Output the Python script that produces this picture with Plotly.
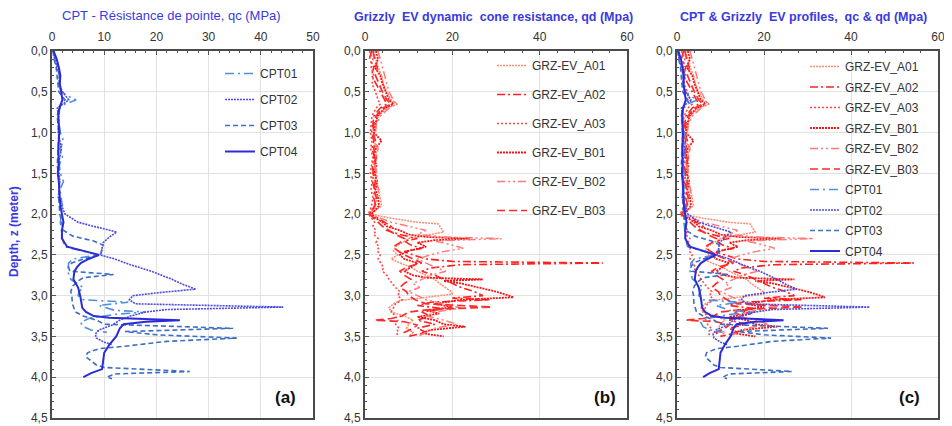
import plotly.graph_objects as go

# ---- CPT cone resistance qc (MPa) vs depth (m) ----
cpt01_z = [0.0, 0.1, 0.2, 0.3, 0.4, 0.5, 0.55, 0.6, 0.65, 0.7, 0.8, 1.0, 1.1, 1.2, 1.3, 1.4, 1.5, 1.6, 1.7, 1.8,
           1.9, 2.0, 2.1, 2.2, 2.3, 2.4, 2.5, 2.55, 2.6, 2.7, 2.8, 2.9, 2.95, 3.0, 3.05, 3.08, 3.12, 3.18, 3.2, 3.23,
           3.28, 3.33, 3.38, 3.42, 3.45]
cpt01_qc = [0.2, 0.6, 1.0, 1.4, 1.2, 1.8, 3.0, 4.6, 2.5, 1.5, 1.2, 1.6, 2.2, 1.5, 2.0, 1.4, 1.6, 2.2, 1.5, 1.8,
            2.0, 1.8, 1.6, 1.8, 2.0, 2.4, 9.0, 4.0, 3.2, 3.0, 3.6, 6.0, 5.2, 5.0, 6.0, 14.6, 9.0, 12.0, 18.0, 12.0,
            7.0, 5.5, 6.0, 7.5, 10.5]

cpt02_z = [0.0, 0.1, 0.2, 0.3, 0.4, 0.5, 0.6, 0.65, 0.7, 0.8, 1.0, 1.2, 1.4, 1.6, 1.8, 2.0, 2.1, 2.15, 2.22, 2.28,
           2.35, 2.45, 2.5, 2.55, 2.62, 2.7, 2.76, 2.8, 2.86, 2.92, 2.96, 3.0, 3.05, 3.1, 3.14, 3.17, 3.2, 3.25,
           3.3, 3.36, 3.42, 3.47, 3.52, 3.57, 3.6]
cpt02_qc = [0.3, 0.5, 1.0, 1.5, 1.3, 2.0, 3.2, 2.0, 1.0, 1.3, 1.2, 1.8, 1.2, 1.5, 1.2, 2.5, 5.0, 8.0, 12.4, 11.0,
            9.8, 9.5, 9.2, 12.0, 15.0, 19.0, 21.5, 23.0, 25.0, 27.5, 21.0, 15.5, 14.8, 16.0, 44.3, 22.0, 18.0, 15.0,
            13.0, 11.5, 9.0, 8.3, 8.5, 10.0, 11.5]

cpt03_z = [0.0, 0.1, 0.2, 0.3, 0.4, 0.5, 0.6, 0.7, 0.8, 1.0, 1.2, 1.4, 1.6, 1.8, 2.0, 2.1, 2.2, 2.27, 2.33, 2.38,
           2.45, 2.5, 2.55, 2.6, 2.65, 2.7, 2.74, 2.78, 2.82, 2.88, 2.95, 3.0, 3.1, 3.2, 3.25, 3.3, 3.35, 3.4, 3.44,
           3.48, 3.52, 3.56, 3.62, 3.65, 3.7, 3.75, 3.8, 3.85, 3.88, 3.93, 3.96, 4.0, 4.02]
cpt03_qc = [0.2, 0.4, 0.8, 1.0, 1.2, 1.3, 2.5, 1.3, 1.0, 1.3, 1.2, 1.0, 1.4, 1.3, 1.5, 1.8, 2.2, 4.0, 8.0, 9.8,
            9.5, 9.3, 6.0, 3.8, 3.2, 3.4, 11.8, 6.0, 5.0, 4.0, 3.6, 3.8, 3.9, 4.5, 6.0, 8.5, 10.0, 34.7, 14.0,
            20.0, 35.4, 22.0, 14.0, 9.0, 6.8, 6.5, 7.5, 8.5, 10.0, 26.4, 12.0, 10.5, 11.5]

cpt04_z = [0.0, 0.05, 0.1, 0.2, 0.3, 0.4, 0.5, 0.6, 0.7, 0.8, 1.0, 1.2, 1.4, 1.5, 1.6, 1.8, 1.9, 2.0, 2.1, 2.2,
           2.3, 2.4, 2.45, 2.5, 2.55, 2.6, 2.65, 2.7, 2.8, 2.9, 3.0, 3.1, 3.15, 3.2, 3.25, 3.27, 3.29, 3.3, 3.32,
           3.35, 3.4, 3.5, 3.6, 3.7, 3.8, 3.9, 3.95, 4.0]
cpt04_qc = [0.3, 0.6, 0.9, 1.3, 1.6, 1.5, 1.7, 2.0, 1.4, 1.2, 1.4, 1.2, 1.3, 1.1, 1.3, 1.5, 1.6, 1.9, 2.2, 1.9,
            1.9, 2.9, 6.0, 9.0, 7.0, 5.5, 4.8, 4.3, 4.1, 5.0, 5.4, 5.6, 5.8, 6.5, 8.0, 11.0, 20.0, 24.5, 18.0,
            13.7, 13.0, 12.3, 11.0, 10.0, 9.8, 9.6, 7.5, 6.0]

# ---- Grizzly EV dynamic cone resistance qd (MPa) vs depth (m) ----
grz_top_z = [0.0, 0.1, 0.2, 0.3, 0.4, 0.5, 0.6, 0.65, 0.7, 0.8, 0.9, 1.0, 1.1, 1.2, 1.3, 1.4, 1.5, 1.6, 1.7, 1.8,
             1.9, 2.0]

a01_z = grz_top_z + [2.05, 2.1, 2.12, 2.18, 2.22, 2.26, 2.3, 2.35, 2.4, 2.45, 2.5, 2.55, 2.6, 2.65, 2.7, 2.75,
                     2.8, 2.85, 2.9, 2.95, 2.98, 3.0, 3.03, 3.06, 3.1, 3.15, 3.2, 3.25, 3.3, 3.35, 3.4, 3.45, 3.5]
a01_qd = [2.0, 2.5, 3.0, 3.8, 4.2, 5.0, 6.0, 7.5, 5.0, 3.0, 2.5, 2.2, 2.0, 2.8, 2.4, 2.0, 2.6, 2.2, 3.0, 3.5,
          3.8, 1.2,
          6.0, 12.0, 16.8, 17.5, 18.0, 14.0, 10.0, 8.5, 7.0, 6.5, 7.5, 6.0, 8.0, 10.5, 12.0, 14.0, 16.0, 17.0,
          18.5, 19.8, 20.0, 17.0, 12.0, 8.0, 6.5, 5.5, 6.0, 9.0, 11.0, 10.0, 9.5, 11.0, 10.0]

a02_z = grz_top_z + [2.05, 2.1, 2.15, 2.2, 2.25, 2.3, 2.33, 2.38, 2.42, 2.46, 2.5, 2.55, 2.58, 2.6, 2.62, 2.66,
                     2.7, 2.75, 2.8, 2.85, 2.9, 2.95, 3.0, 3.03, 3.05, 3.08, 3.12, 3.16, 3.2, 3.25, 3.3, 3.35,
                     3.4, 3.45, 3.5]
a02_qd = [1.5, 1.0, 2.0, 1.5, 2.5, 3.5, 4.5, 5.0, 3.5, 2.0, 1.8, 1.5, 2.0, 1.6, 2.2, 1.6, 2.0, 1.7, 2.2, 2.0,
          2.5, 1.0,
          3.0, 4.5, 6.0, 5.0, 8.0, 12.0, 9.0, 10.5, 13.0, 9.0, 11.0, 14.0, 20.0, 54.5, 22.0, 15.0, 13.0, 16.0,
          18.0, 20.0, 22.0, 25.0, 27.0, 20.0, 28.6, 15.0, 12.0, 18.0, 13.0, 15.0, 12.0, 16.0, 12.0, 14.0, 10.0]

a03_z = grz_top_z + [2.05, 2.1, 2.15, 2.2, 2.25, 2.3, 2.35, 2.4, 2.45, 2.5, 2.55, 2.6, 2.65, 2.7, 2.75, 2.8,
                     2.85, 2.9, 2.95, 3.0, 3.05, 3.1, 3.15, 3.2, 3.25, 3.3, 3.35, 3.4, 3.45, 3.5]
a03_qd = [1.0, 1.8, 1.4, 2.0, 1.6, 2.4, 3.0, 3.5, 2.5, 1.6, 1.4, 1.2, 1.6, 1.3, 1.8, 1.5, 1.2, 1.6, 1.4, 1.8,
          1.5, 0.8,
          1.5, 2.2, 1.8, 2.5, 2.0, 3.0, 2.5, 3.2, 2.8, 3.5, 3.0, 3.6, 4.2, 4.0, 5.0, 5.5, 6.2, 7.0, 8.0, 7.5,
          8.5, 7.0, 6.5, 6.0, 7.0, 7.5, 7.0, 7.8, 7.2, 7.6]

b01_z = grz_top_z + [2.05, 2.1, 2.15, 2.2, 2.25, 2.28, 2.3, 2.32, 2.35, 2.4, 2.45, 2.5, 2.55, 2.6, 2.65, 2.7,
                     2.75, 2.78, 2.8, 2.82, 2.85, 2.9, 2.95, 3.0, 3.02, 3.05, 3.1, 3.14, 3.18, 3.22, 3.26, 3.3,
                     3.35, 3.38, 3.42, 3.46, 3.5]
b01_qd = [2.5, 3.0, 2.2, 3.5, 4.0, 4.8, 5.5, 6.5, 4.5, 2.8, 2.4, 2.0, 3.8, 2.4, 2.0, 2.6, 2.2, 2.8, 2.4, 3.0,
          3.2, 1.5,
          2.5, 4.0, 5.0, 8.0, 10.0, 14.0, 24.0, 16.0, 12.0, 14.0, 10.0, 8.0, 9.0, 12.0, 10.5, 9.0, 11.0, 14.0,
          27.0, 18.0, 22.0, 26.0, 30.0, 33.0, 34.0, 22.0, 16.0, 20.0, 14.0, 17.0, 12.0, 16.0, 18.0, 23.0, 15.0,
          13.0, 18.0]

b02_z = grz_top_z + [2.05, 2.1, 2.15, 2.2, 2.25, 2.28, 2.3, 2.33, 2.38, 2.42, 2.46, 2.5, 2.55, 2.6, 2.65, 2.7,
                     2.75, 2.8, 2.85, 2.9, 2.95, 3.0, 3.05, 3.1, 3.15, 3.2, 3.25, 3.3, 3.35, 3.4, 3.45, 3.5]
b02_qd = [3.0, 3.5, 4.0, 4.5, 5.0, 5.5, 6.5, 7.0, 5.5, 3.5, 2.6, 2.4, 2.2, 3.0, 2.6, 2.2, 2.8, 2.5, 3.2, 2.8,
          2.4, 1.2,
          3.5, 6.0, 10.0, 14.0, 12.0, 18.0, 31.3, 16.0, 20.0, 22.5, 18.0, 15.0, 12.0, 14.0, 16.0, 18.5, 15.0,
          13.0, 11.0, 12.5, 10.0, 12.0, 14.0, 18.0, 22.0, 16.0, 14.0, 18.0, 21.0, 16.0, 14.0, 12.0]

b03_z = grz_top_z + [2.05, 2.1, 2.15, 2.2, 2.25, 2.3, 2.35, 2.4, 2.45, 2.5, 2.55, 2.6, 2.65, 2.7, 2.75, 2.8,
                     2.85, 2.9, 2.95, 3.0, 3.05, 3.1, 3.14, 3.17, 3.2, 3.25, 3.28, 3.3, 3.32, 3.36, 3.4, 3.45, 3.5]
b03_qd = [1.8, 2.2, 2.8, 2.4, 3.2, 4.0, 5.0, 6.0, 4.0, 2.5, 2.0, 1.8, 2.4, 2.0, 2.6, 2.2, 1.8, 2.4, 2.0, 2.6,
          2.2, 1.0,
          2.0, 3.0, 4.0, 5.5, 7.0, 9.0, 8.0, 6.5, 7.5, 9.0, 11.0, 13.0, 9.5, 8.0, 9.0, 10.5, 9.0, 8.0, 9.5, 10.0,
          11.5, 14.0, 29.0, 15.0, 10.0, 8.5, 6.0, 2.2, 9.0, 12.0, 11.0, 9.0, 9.5]

cpt_names = ['CPT01', 'CPT02', 'CPT03', 'CPT04']
grz_names = ['GRZ-EV_A01', 'GRZ-EV_A02', 'GRZ-EV_A03', 'GRZ-EV_B01', 'GRZ-EV_B02', 'GRZ-EV_B03']

cpt_data = [(cpt01_qc, cpt01_z), (cpt02_qc, cpt02_z), (cpt03_qc, cpt03_z), (cpt04_qc, cpt04_z)]
grz_data = [(a01_qd, a01_z), (a02_qd, a02_z), (a03_qd, a03_z), (b01_qd, b01_z), (b02_qd, b02_z), (b03_qd, b03_z)]

cpt_style = [dict(color='#4f8fdc', dash='9px,4px,2px,4px', width=1.6),
             dict(color='#4a4ae6', dash='2px,1px', width=1.6),
             dict(color='#3c6ec4', dash='5px,3px', width=1.6),
             dict(color='#2b2bd8', dash='solid', width=2)]
grz_style = [dict(color='#ff8a70', dash='2px,1px', width=1.5),
             dict(color='#ff2020', dash='8px,3px,2px,3px', width=1.6),
             dict(color='#ff4848', dash='2px,2px', width=1.6),
             dict(color='#ff1010', dash='2px,1px', width=1.8),
             dict(color='#ff7a7a', dash='8px,3px,2px,3px,2px,3px', width=1.5),
             dict(color='#ff2a2a', dash='8px,4px', width=1.7)]

FONT = 'Arial, Liberation Sans, sans-serif'
fig = go.Figure()


def add(name, data, style, xa, ya, legend):
    qc, z = data
    fig.add_trace(go.Scatter(x=qc, y=z, mode='lines', name=name, line=style,
                             xaxis=xa, yaxis=ya, legend=legend, legendgroup=legend + name))


for n, d, s in zip(cpt_names, cpt_data, cpt_style):
    add(n, d, s, 'x', 'y', 'legend')
for n, d, s in zip(grz_names, grz_data, grz_style):
    add(n, d, s, 'x2', 'y2', 'legend2')
for n, d, s in zip(grz_names, grz_data, grz_style):
    add(n, d, s, 'x3', 'y3', 'legend3')
for n, d, s in zip(cpt_names, cpt_data, cpt_style):
    add(n, d, s, 'x3', 'y3', 'legend3')

# the page body has an 8px margin, so the figure is 8px smaller and positions are screen px - 8
W, H = 944, 418
OFF = 8


def px(x):
    return (x - OFF) / W


def py(y):
    return 1 - (y - OFF) / H


ydom = [py(418), py(51)]
xdoms = [(px(52), px(313)), (px(365), px(627)), (px(677), px(938))]
xranges = [(0, 50, 10, 2), (0, 60, 20, 4), (0, 60, 20, 4)]

common = dict(showline=True, mirror=True, linecolor='#4a4a4a', linewidth=2,
              showgrid=True, gridcolor='#e2e2e2', gridwidth=1, zeroline=False,
              ticks='inside', ticklen=4, tickcolor='#555555', automargin=False,
              tickfont=dict(family=FONT, size=12, color='#333333'))

layout = {}
for i, (dom, (x0, x1, dt, mdt)) in enumerate(zip(xdoms, xranges)):
    sfx = '' if i == 0 else str(i + 1)
    layout['xaxis' + sfx] = dict(common, domain=list(dom), range=[x0, x1], dtick=dt, side='top',
                                 anchor='y' + sfx, ticklabelstandoff=3,
                                 minor=dict(dtick=mdt, ticks='inside', ticklen=2, tickcolor='#555555',
                                            showgrid=False))
    layout['yaxis' + sfx] = dict(common, domain=ydom, range=[4.5, 0], dtick=0.5, tickformat='.1f',
                                 anchor='x' + sfx,
                                 minor=dict(dtick=0.1, ticks='inside', ticklen=2, tickcolor='#555555',
                                            showgrid=False))

leg_common = dict(xanchor='left', yanchor='top', bgcolor='rgba(0,0,0,0)', traceorder='grouped',
                  font=dict(family=FONT, size=12, color='#333333'))
layout['legend'] = dict(leg_common, x=px(220), y=py(59), tracegroupgap=7)
layout['legend2'] = dict(leg_common, x=px(492), y=py(51), tracegroupgap=10)
layout['legend3'] = dict(leg_common, x=px(805), y=py(52), tracegroupgap=1.5)

fig.update_layout(width=W, height=H, margin=dict(l=0, r=0, t=0, b=0, autoexpand=False),
                  paper_bgcolor='white', plot_bgcolor='white', separators=', ',
                  font=dict(family=FONT), **layout)

titles = [("CPT - Résistance de pointe, qc (MPa)", 171, 15, 13),
          ("<b>Grizzly  EV dynamic  cone resistance, qd (Mpa)</b>", 493, 17, 12.5),
          ("<b>CPT & Grizzly  EV profiles,  qc & qd (Mpa)</b>", 803, 17, 12.5)]
for txt, x, y, size in titles:
    fig.add_annotation(text=txt, x=px(x), y=py(y), xref='paper', yref='paper', showarrow=False,
                       xanchor='center', yanchor='middle',
                       font=dict(family=FONT, size=size, color='#3a3ae0'))

for lab, x in [('(a)', 285), ('(b)', 605), ('(c)', 909)]:
    fig.add_annotation(text='<b>%s</b>' % lab, x=px(x), y=py(397), xref='paper', yref='paper',
                       xanchor='center', yanchor='middle', showarrow=False,
                       font=dict(family=FONT, size=17, color='#111111'))

fig.add_annotation(text='<b>Depth, z (meter)</b>', x=px(14), y=py(232), xref='paper', yref='paper',
                   xanchor='center', yanchor='middle', showarrow=False, textangle=-90,
                   font=dict(family=FONT, size=12, color='#3a3ae0'))

fig.write_html("out.html")
